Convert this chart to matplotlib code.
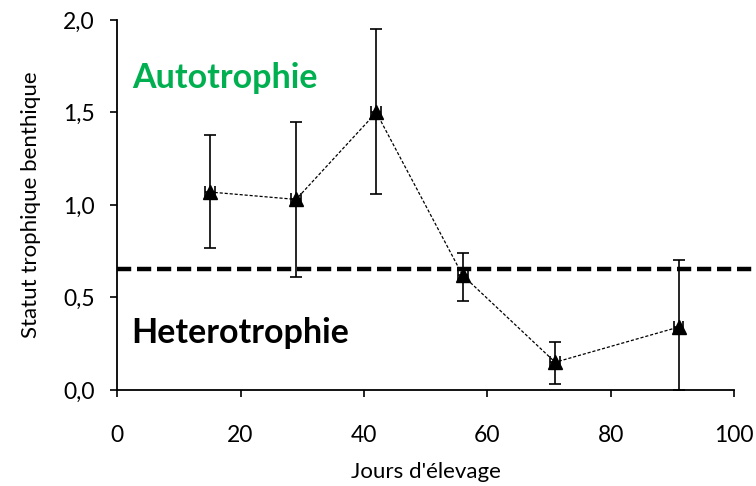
import matplotlib
matplotlib.use("Agg")
import matplotlib.pyplot as plt
from matplotlib.ticker import FuncFormatter

plt.rcParams['font.family'] = ['Lato', 'DejaVu Sans']

# données
jours = [15, 29, 42, 56, 71, 91]
statut = [1.07, 1.03, 1.50, 0.62, 0.15, 0.34]
err_haut = [1.38, 1.45, 1.95, 0.74, 0.26, 0.70]
err_bas = [0.77, 0.61, 1.06, 0.48, 0.03, 0.0]
err_x = [0.8, 0.8, 0.8, 0.8, 0.8, 0.8]
seuil = 0.655

yerr = [[s - b for s, b in zip(statut, err_bas)],
        [h - s for s, h in zip(statut, err_haut)]]

fig = plt.figure(figsize=(7.56, 4.86), dpi=100)
ax = fig.add_axes([0.155, 0.1975, 0.816, 0.7615])

ax.plot([0, 103], [seuil, seuil], color='black', lw=3.2, ls=(0, (3.2, 1.3)),
        clip_on=False, zorder=1)
ax.errorbar(jours, statut, yerr=yerr, xerr=err_x, fmt='^', color='black',
            ms=10, ecolor='black', elinewidth=1.2, capsize=4, capthick=1.2,
            zorder=3)
ax.plot(jours, statut, color='black', lw=0.9, ls=(0, (2.5, 1.5)), zorder=2)

ax.text(2.4, 1.632, 'Autotrophie', color='#00B050', fontsize=24.5,
        fontweight='bold', va='baseline')
ax.text(2.3, 0.254, 'Heterotrophie', color='black', fontsize=24.5,
        fontweight='bold', va='baseline')

ax.set_xlim(0, 100)
ax.set_ylim(0, 2.0)
ax.set_xticks([0, 20, 40, 60, 80, 100])
ax.set_yticks([0, 0.5, 1.0, 1.5, 2.0])
ax.yaxis.set_major_formatter(FuncFormatter(lambda v, p: ('%.1f' % v).replace('.', ',')))
ax.tick_params(labelsize=16.5, direction='out', length=5, width=1.2)
ax.tick_params(axis='x', pad=20)
ax.tick_params(axis='y', pad=11)
for s in ['top', 'right']:
    ax.spines[s].set_visible(False)
for s in ['left', 'bottom']:
    ax.spines[s].set_linewidth(1.3)

ax.set_xlabel("Jours d'élevage", fontsize=16, labelpad=12)
ax.set_ylabel('Statut trophique benthique', fontsize=16, labelpad=16)

fig.savefig('out.png', dpi=100)
